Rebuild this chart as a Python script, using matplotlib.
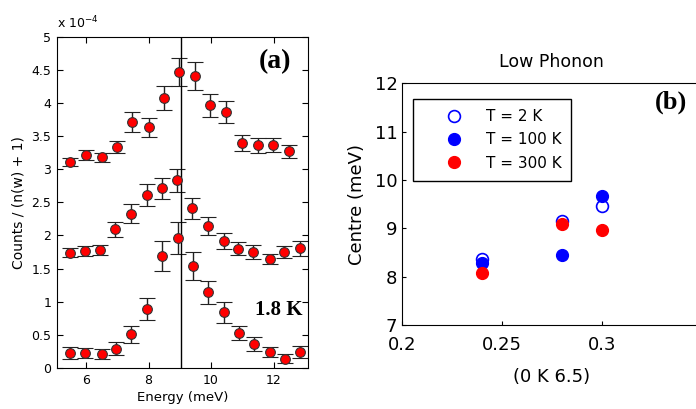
import numpy as np
import matplotlib
matplotlib.use("Agg")
import matplotlib.pyplot as plt

# ---- panel (a): counts / (n(w)+1), units of 1e-4 ----
top_x = [5.5, 6.0, 6.5, 7.0, 7.48, 8.0, 8.49, 8.97, 9.49, 9.96, 10.48, 11.0, 11.49, 11.98, 12.49]
top_y = [3.11, 3.22, 3.18, 3.34, 3.71, 3.63, 4.07, 4.46, 4.41, 3.96, 3.86, 3.40, 3.36, 3.37, 3.27]
top_err = [0.06, 0.075, 0.07, 0.09, 0.15, 0.14, 0.18, 0.21, 0.21, 0.18, 0.16, 0.12, 0.11, 0.105, 0.10]

mid_x = [5.47, 5.96, 6.45, 6.93, 7.44, 7.96, 8.42, 8.92, 9.40, 9.91, 10.41, 10.86, 11.35, 11.87, 12.34, 12.84]
mid_y = [1.74, 1.76, 1.78, 2.09, 2.33, 2.61, 2.71, 2.83, 2.41, 2.14, 1.92, 1.80, 1.75, 1.64, 1.75, 1.81]
mid_err = [0.073, 0.075, 0.075, 0.11, 0.14, 0.163, 0.16, 0.175, 0.16, 0.136, 0.118, 0.10, 0.10, 0.078, 0.088, 0.113]

bot_x = [5.49, 5.98, 6.5, 6.95, 7.45, 7.95, 8.44, 8.93, 9.43, 9.91, 10.41, 10.9, 11.37, 11.9, 12.36, 12.84]
bot_y = [0.23, 0.22, 0.21, 0.29, 0.51, 0.89, 1.69, 1.96, 1.54, 1.14, 0.84, 0.53, 0.36, 0.24, 0.14, 0.24]
bot_err = [0.09, 0.075, 0.08, 0.10, 0.13, 0.16, 0.23, 0.24, 0.21, 0.18, 0.155, 0.11, 0.11, 0.08, 0.07, 0.09]

e_line = 9.05  # vertical marker line (meV)

# ---- panel (b): low phonon centre vs (0 K 6.5) ----
q_vals = [0.24, 0.28, 0.30]
centre_2K = [8.37, 9.15, 9.47]
centre_100K = [8.29, 8.44, 9.66]
centre_300K = [8.08, 9.08, 8.97]

fig = plt.figure(figsize=(6.96, 4.09), dpi=100)

# --------------------------------------------
# (a)
# --------------------------------------------
ax1 = fig.add_axes([0.0819, 0.1002, 0.3606, 0.8105])
for xs, ys, es in [(top_x, top_y, top_err), (mid_x, mid_y, mid_err), (bot_x, bot_y, bot_err)]:
    ax1.errorbar(xs, ys, yerr=es, fmt='o', color='#222222', ecolor='#222222',
                 elinewidth=1.0, capsize=6, capthick=1.0,
                 markerfacecolor='red', markeredgecolor='#333333',
                 markeredgewidth=0.8, markersize=7)
ax1.axvline(e_line, color='black', linewidth=1.0)

ax1.set_xlim(5.07, 13.1)
ax1.set_ylim(0, 5)
ax1.set_xticks([6, 8, 10, 12])
ax1.set_yticks(np.arange(0, 5.01, 0.5))
ax1.set_yticklabels(['0', '0.5', '1', '1.5', '2', '2.5', '3', '3.5', '4', '4.5', '5'])
ax1.tick_params(direction='in', length=4, top=True, right=True, labelsize=9, pad=4)
ax1.set_xlabel('Energy (meV)', fontsize=9.5, labelpad=3)
ax1.set_ylabel('Counts / (n(w) + 1)', fontsize=10, labelpad=4)
ax1.text(0.0, 1.015, r'x 10$^{-4}$', transform=ax1.transAxes, fontsize=9,
         ha='left', va='bottom')
ax1.text(0.87, 0.925, '(a)', transform=ax1.transAxes, fontsize=20, fontweight='bold',
         family='Liberation Serif', ha='center', va='center')
ax1.text(0.885, 0.175, '1.8 K', transform=ax1.transAxes, fontsize=15, fontweight='bold',
         family='Liberation Serif', ha='center', va='center')

# --------------------------------------------
# (b)
# --------------------------------------------
ax2 = fig.add_axes([0.578, 0.2054, 0.4297, 0.591])
ax2.plot(q_vals, centre_2K, 'o', markerfacecolor='none', markeredgecolor='blue',
         markeredgewidth=1.2, markersize=8.5, label='T = 2 K')
ax2.plot(q_vals, centre_100K, 'o', color='blue', markersize=8.5, label='T = 100 K')
ax2.plot(q_vals, centre_300K, 'o', color='red', markersize=8.5, label='T = 300 K')

ax2.set_xlim(0.2, 0.35)
ax2.set_ylim(7, 12)
ax2.set_xticks([0.2, 0.25, 0.3])
ax2.set_xticklabels(['0.2', '0.25', '0.3'])
ax2.set_yticks([7, 8, 9, 10, 11, 12])
ax2.tick_params(direction='in', length=3, labelsize=13)
ax2.tick_params(axis='x', pad=8)
ax2.set_xlabel('(0 K 6.5)', fontsize=13, labelpad=10)
ax2.set_ylabel('Centre (meV)', fontsize=13, labelpad=6)
ax2.set_title('Low Phonon', fontsize=12.5, pad=12)
ax2.text(0.9, 0.92, '(b)', transform=ax2.transAxes, fontsize=19, fontweight='bold',
         family='Liberation Serif', ha='center', va='center')

leg = ax2.legend(loc='upper left', bbox_to_anchor=(0.036, 0.935), borderaxespad=0,
                 fontsize=11, fancybox=False, edgecolor='black', framealpha=1,
                 handletextpad=0.1, borderpad=0.65, labelspacing=0.55,
                 handlelength=4.0, numpoints=1)
leg.get_frame().set_linewidth(1.0)

fig.savefig('out.png', dpi=100)
